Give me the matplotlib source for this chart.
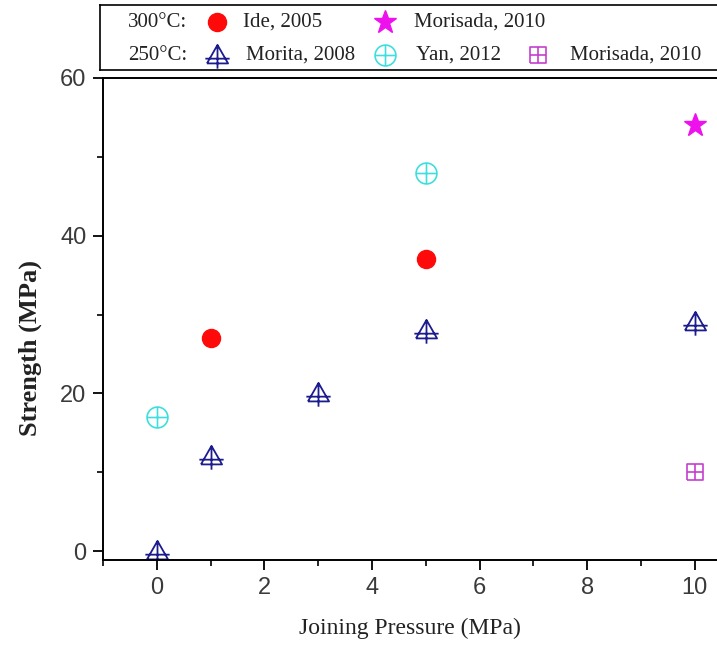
import matplotlib
matplotlib.use("Agg")
import matplotlib.pyplot as plt
from matplotlib.path import Path
from matplotlib.ticker import MultipleLocator

# Strength vs. joining pressure, sintered silver joints
ide_x = [1, 5]
ide_y = [27, 37]
morisada300_x = [10]
morisada300_y = [54]
morita_x = [0, 1, 3, 5, 10]
morita_y = [0, 12, 20, 28, 29]
yan_x = [0, 5]
yan_y = [17, 48]
morisada250_x = [10]
morisada250_y = [10]

x_ticks = [0, 2, 4, 6, 8, 10]
y_ticks = [0, 20, 40, 60]

NAVY = "#1c1c8f"
CYAN = "#3fdede"
RED = "#ff0a0a"
MAGENTA = "#ee11ee"
PURPLE = "#c63fcf"


def _lines(segs):
    verts, codes = [], []
    for (a, b) in segs:
        verts += [a, b]
        codes += [Path.MOVETO, Path.LINETO]
    return verts, codes


def tri_cross():
    verts = [(-1.0, -0.75), (1.0, -0.75), (0.0, 1.0), (-1.0, -0.75)]
    codes = [Path.MOVETO, Path.LINETO, Path.LINETO, Path.LINETO]
    v, c = _lines([((0, 1.0), (0, -1.25)), ((-1.15, -0.3), (1.15, -0.3))])
    return Path(verts + v, codes + c)


def circ_cross():
    circ = Path.unit_circle()
    v, c = _lines([((0, 1), (0, -1)), ((-1, 0), (1, 0))])
    return Path.make_compound_path(circ, Path(v, c))


def sq_cross():
    verts = [(-1, -1), (1, -1), (1, 1), (-1, 1), (-1, -1)]
    codes = [Path.MOVETO] + [Path.LINETO] * 4
    v, c = _lines([((0, 1), (0, -1)), ((-1, 0), (1, 0))])
    return Path(verts + v, codes + c)


STYLES = {
    "ide": dict(marker="o", color=RED, ms=13, mec=RED, mew=1),
    "mor300": dict(marker="*", color=MAGENTA, ms=17, mec=MAGENTA, mew=1),
    "morita": dict(marker=tri_cross(), color="none", ms=19, mec=NAVY, mew=1.3),
    "yan": dict(marker=circ_cross(), color="none", ms=15, mec=CYAN, mew=1.2),
    "mor250": dict(marker=sq_cross(), color="none", ms=12, mec=PURPLE, mew=1.2),
}

W, H = 717, 646
fig = plt.figure(figsize=(W / 100, H / 100), dpi=100)

ax = fig.add_axes([103 / W, (H - 560) / H, 640 / W, 482 / H])
ax.plot(morita_x, morita_y, ls="none", **STYLES["morita"])
ax.plot(yan_x, yan_y, ls="none", **STYLES["yan"])
ax.plot(morisada250_x, morisada250_y, ls="none", **STYLES["mor250"])
ax.plot(ide_x, ide_y, ls="none", **STYLES["ide"])
ax.plot(morisada300_x, morisada300_y, ls="none", **STYLES["mor300"])

# axes runs past the right edge of the canvas
ax.set_xlim(-1.0, -1.0 + 640 / 53.8)
ax.set_ylim(-1.14, 60)
ax.set_xticks(x_ticks)
ax.set_yticks(y_ticks)
ax.xaxis.set_minor_locator(MultipleLocator(1))
ax.yaxis.set_minor_locator(MultipleLocator(10))
ax.spines["right"].set_visible(False)
for s in ("left", "bottom", "top"):
    ax.spines[s].set_linewidth(1.4)
ax.tick_params(which="major", direction="out", length=7, width=1.3,
               labelsize=17, labelcolor="#3a3a3a", pad=5)
ax.tick_params(which="minor", direction="out", length=4, width=1.2)
for lab in ax.get_xticklabels() + ax.get_yticklabels():
    lab.set_family("Liberation Sans")

ax.set_xlabel("Joining Pressure (MPa)", family="Liberation Serif", fontsize=17,
              color="#222222")
ax.xaxis.set_label_coords((410 - 103) / 640, -(628 - 560) / 482)
ax.xaxis.label.set_va("center")
ax.set_ylabel("Strength (MPa)", family="Liberation Serif", fontsize=19,
              fontweight="bold", color="#222222")
ax.yaxis.set_label_coords((30 - 103) / 640, (560 - 348) / 482)
ax.yaxis.label.set_va("center")

# legend panel drawn in pixel coordinates
leg = fig.add_axes([100 / W, (H - 70) / H, 640 / W, 65 / H])
leg.set_xlim(100, 740)
leg.set_ylim(70, 5)
leg.set_xticks([])
leg.set_yticks([])
for s in leg.spines.values():
    s.set_linewidth(1.2)
leg.spines["right"].set_visible(False)

txt = dict(family="Liberation Serif", fontsize=15, color="#222222", va="center")
r1, r2 = 22, 55
leg.text(128, r1, "300°C:", **txt)
leg.plot([217], [r1], ls="none", **STYLES["ide"])
leg.text(243, r1, "Ide, 2005", **txt)
leg.plot([385], [r1], ls="none", **STYLES["mor300"])
leg.text(414, r1, "Morisada, 2010", **txt)

leg.text(128, r2, "250°C:", **txt)
leg.plot([217], [r2], ls="none", **STYLES["morita"])
leg.text(246, r2, "Morita, 2008", **txt)
leg.plot([385], [r2], ls="none", **STYLES["yan"])
leg.text(416, r2, "Yan, 2012", **txt)
leg.plot([538], [r2], ls="none", **STYLES["mor250"])
leg.text(570, r2, "Morisada, 2010", **txt)

fig.savefig("out.png", dpi=100)
